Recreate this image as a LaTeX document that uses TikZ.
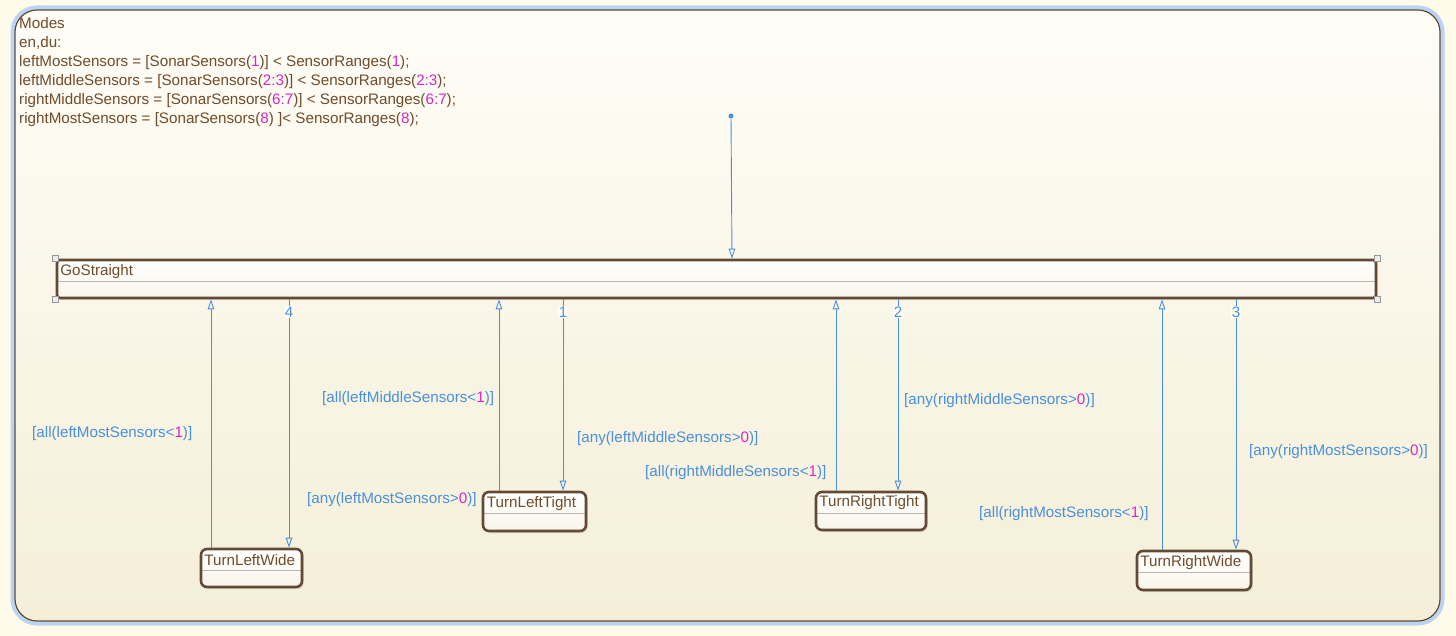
\documentclass[tikz,border=0pt]{standalone}
\usepackage{fontspec}
\setmainfont{Liberation Sans}
\usetikzlibrary{arrows.meta,shadows,calc}

\definecolor{pagebg}{RGB}{254,251,235}
\definecolor{chartblue}{RGB}{188,212,242}
\definecolor{statebrown}{RGB}{98,74,52}
\definecolor{txtbrown}{RGB}{112,76,42}
\definecolor{trblue}{RGB}{74,144,217}
\definecolor{nummag}{RGB}{214,40,196}
\definecolor{bgtop}{RGB}{254,253,247}
\definecolor{bgbot}{RGB}{245,239,216}
\definecolor{bodycream}{RGB}{248,245,234}
\definecolor{sepgrey}{RGB}{188,184,176}
\definecolor{hdlgrey}{RGB}{150,150,150}
\definecolor{hdlfill}{RGB}{236,236,236}

\newcommand\magnum[1]{\textcolor{nummag}{#1}}

\tikzset{
  txt/.style={font=\fontsize{15.2}{19}\selectfont, inner sep=0pt},
  chartbox/.style={draw=statebrown, line width=1.2pt, rounded corners=22pt,
    top color=bgtop, bottom color=bgbot,
    preaction={draw=chartblue, line width=9pt}},
  statebox/.style={draw=statebrown, line width=2.6pt, rounded corners=6pt,
    top color=white, bottom color=bodycream, inner sep=0pt,
    drop shadow={opacity=0.22, shadow xshift=1.8pt, shadow yshift=-2pt},
    path picture={\draw[sepgrey, line width=0.8pt]
      ($(path picture bounding box.north west)+(0,-21.5pt)$) --
      ($(path picture bounding box.north east)+(0,-21.5pt)$);}},
  stname/.style={txt, text=txtbrown, anchor=west},
  guard/.style={txt, text=trblue, anchor=west},
  num/.style={txt, text=trblue, fill=bgtop, inner sep=1pt},
  tr/.style={trblue, line width=0.9pt, -{Triangle[open, length=10pt, width=6.5pt]}},
  handle/.style={draw=hdlgrey, fill=hdlfill, line width=0.6pt, minimum size=6pt, inner sep=0pt}
}

\begin{document}
\begin{tikzpicture}[x=1pt, y=-1pt]
  % canvas
  \fill[pagebg] (0,0) rectangle (1456,636);
  \useasboundingbox (0,0) rectangle (1456,636);

  % enclosing chart state
  \node[chartbox, minimum width=1425pt, minimum height=611pt] (modes) at (727.5,315.5) {};
  \node[txt, text=txtbrown, anchor=north west, align=left] (modestext) at (19,17)
    {Modes\\
     en,du:\\
     leftMostSensors = [SonarSensors(\magnum{1})] < SensorRanges(\magnum{1});\\
     leftMiddleSensors = [SonarSensors(\magnum{2:3})] < SensorRanges(\magnum{2:3});\\
     rightMiddleSensors = [SonarSensors(\magnum{6:7})] < SensorRanges(\magnum{6:7});\\
     rightMostSensors = [SonarSensors(\magnum{8}) ]< SensorRanges(\magnum{8});};

  % states
  \node[statebox, rounded corners=3pt, minimum width=1319pt, minimum height=38pt] (gs) at (716.5,279) {};
  \node[statebox, minimum width=101pt, minimum height=38pt] (tlw) at (251.5,568) {};
  \node[statebox, minimum width=103pt, minimum height=39pt] (tlt) at (534.5,511.5) {};
  \node[statebox, minimum width=110pt, minimum height=38pt] (trt) at (871,511) {};
  \node[statebox, minimum width=114pt, minimum height=39pt] (trw) at (1194,570.5) {};

  \node[stname] (gsname)  at ([xshift=4.5pt,yshift=-12.5pt]gs.north west)  {GoStraight};
  \node[stname] (tlwname) at ([xshift=4.5pt,yshift=-12.5pt]tlw.north west) {TurnLeftWide};
  \node[stname] (tltname) at ([xshift=5pt,yshift=-12.5pt]tlt.north west)   {TurnLeftTight};
  \node[stname] (trtname) at ([xshift=4.5pt,yshift=-11.5pt]trt.north west) {TurnRightTight};
  \node[stname] (trwname) at ([xshift=4.5pt,yshift=-12.5pt]trw.north west) {TurnRightWide};

  % selection handles
  \node[handle] (h1) at (gs.north west) {};
  \node[handle] (h2) at (gs.north east) {};
  \node[handle] (h3) at (gs.south west) {};
  \node[handle] (h4) at (gs.south east) {};

  % default transition
  \node[circle, fill=trblue, inner sep=0pt, minimum size=5pt] (init) at (731,116) {};
  \coordinate (initend) at ([xshift=15.5pt]gs.north);
  \draw[tr] (init) -- (initend);

  % transition end points on the small states
  \coordinate (a1) at ([xshift=-40.5pt]tlw.north);
  \coordinate (a2) at ([xshift=37.5pt]tlw.north);
  \coordinate (a3) at ([xshift=-35.5pt]tlt.north);
  \coordinate (a4) at ([xshift=28.5pt]tlt.north);
  \coordinate (a5) at ([xshift=-35pt]trt.north);
  \coordinate (a6) at ([xshift=27pt]trt.north);
  \coordinate (a7) at ([xshift=-32pt]trw.north);
  \coordinate (a8) at ([xshift=42pt]trw.north);

  % transitions back to GoStraight
  \draw[tr] (a1) -- (a1 |- gs.south);
  \draw[tr] (a3) -- (a3 |- gs.south);
  \draw[tr] (a5) -- (a5 |- gs.south);
  \draw[tr] (a7) -- (a7 |- gs.south);

  % transitions out of GoStraight
  \draw[tr] (a2 |- gs.south) -- (a2);
  \draw[tr] (a4 |- gs.south) -- (a4);
  \draw[tr] (a6 |- gs.south) -- (a6);
  \draw[tr] (a8 |- gs.south) -- (a8);

  % execution order numbers
  \node[num] (o4) at (289,312) {4};
  \node[num] (o1) at (563,312) {1};
  \node[num] (o2) at (898,312) {2};
  \node[num] (o3) at (1236,312) {3};

  % guards
  \node[guard] (g1) at (32,434)  {[all(leftMostSensors<\magnum{1})]};
  \node[guard] (g2) at (307,500) {[any(leftMostSensors>\magnum{0})]};
  \node[guard] (g3) at (322,399) {[all(leftMiddleSensors<\magnum{1})]};
  \node[guard] (g4) at (577,439) {[any(leftMiddleSensors>\magnum{0})]};
  \node[guard] (g5) at (645,473) {[all(rightMiddleSensors<\magnum{1})]};
  \node[guard] (g6) at (904,401) {[any(rightMiddleSensors>\magnum{0})]};
  \node[guard] (g7) at (979,514) {[all(rightMostSensors<\magnum{1})]};
  \node[guard] (g8) at (1249,452) {[any(rightMostSensors>\magnum{0})]};
\end{tikzpicture}
\end{document}
